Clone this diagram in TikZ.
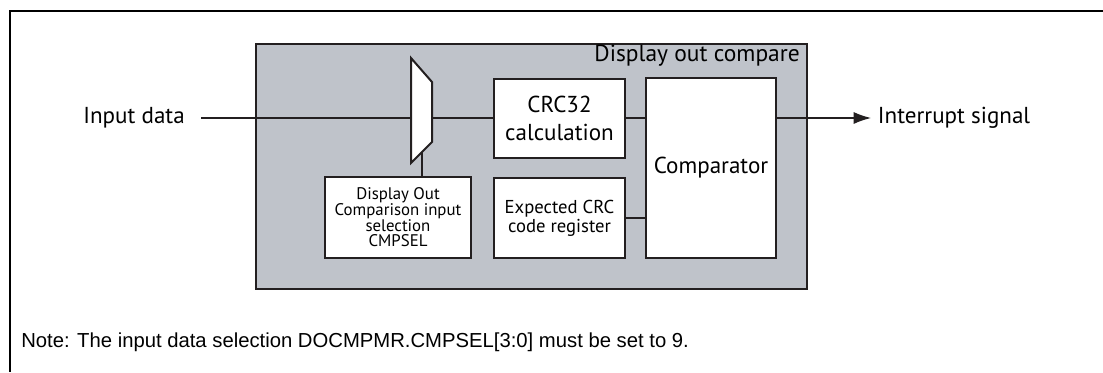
\documentclass[tikz,border=0pt]{standalone}
\usepackage{fontspec}
\setmainfont{PT Sans}
\newfontfamily\notefont{Liberation Sans}
\usepackage{tikz}
\usetikzlibrary{shapes,arrows,arrows.meta,positioning}

\definecolor{docgray}{RGB}{191,195,202}
\definecolor{linedark}{RGB}{35,31,32}

\begin{document}
\begin{tikzpicture}[x=0.75pt, y=-0.75pt]
\tikzstyle{outer} = [rectangle, draw=linedark, line width=1.5pt, fill=docgray]
\tikzstyle{block} = [rectangle, draw=linedark, line width=1.5pt, fill=white, align=center, inner sep=0pt]
\tikzstyle{wire} = [draw=linedark, line width=0.9pt]
\tikzstyle{arrow} = [wire, -{Latex[length=13pt, width=9pt]}]
\tikzstyle{big} = [font=\fontsize{17.3}{21}\selectfont]
\tikzstyle{small} = [font=\fontsize{12.6}{11.8}\selectfont]

\useasboundingbox (0,0) rectangle (1103,372);

% frame (top and left only)
\draw[line width=1.6pt] (9,11) -- (1103,11);
\draw[line width=1.6pt] (10,11) -- (10,372);

% display out compare block
\node[outer, minimum width=413.25pt, minimum height=183.75pt] (doc) at (531.5,166.5) {};
\node[big, font=\fontsize{17.6}{21}\selectfont, anchor=north east, inner xsep=6pt, inner ysep=1.5pt] (doclabel) at (doc.north east) {Display out compare};

% selector
\draw[linedark, line width=1.5pt, fill=white] (411,58) -- (432,82) -- (432,142) -- (411,163) -- cycle;
\coordinate (muxin) at (411,118);
\coordinate (muxout) at (432,118);
\coordinate (muxsel) at (422,152);

\node[block, small, minimum width=109.5pt, minimum height=60.75pt] (sel) at (398,217.5)
  {Display Out\\Comparison input\\selection\\CMPSEL};
\node[block, big, minimum width=98.25pt, minimum height=59.25pt] (crc) at (559.5,118) {CRC32\\calculation};
\node[block, font=\fontsize{14}{14.25}\selectfont, minimum width=98.25pt, minimum height=60pt] (exp) at (559.5,218)
  {Expected CRC\\code register};
\node[block, big, minimum width=97.5pt, minimum height=135pt] (cmp) at (711,168) {Comparator};

\node[big, anchor=east, inner xsep=12pt] (input) at (201,118) {Input data};
\node[big, anchor=west, inner xsep=5pt] (intr) at (871,118) {Interrupt signal};

% connections
\draw[wire] (input.east) -- (muxin);
\draw[wire] (muxout) -- (crc.west);
\draw[wire] (muxsel) -- (muxsel |- sel.north);
\draw[wire] (crc.east) -- (crc.east -| cmp.west);
\draw[wire] (exp.east) -- (exp.east -| cmp.west);
\draw[arrow] (cmp.east |- crc.east) -- (intr.west);

\node[font=\notefont\fontsize{15.2}{16}\selectfont, anchor=west, inner sep=0pt] (note) at (21,342)
  {Note: The input data selection DOCMPMR.CMPSEL[3:0] must be set to 9.};
\end{tikzpicture}
\end{document}
